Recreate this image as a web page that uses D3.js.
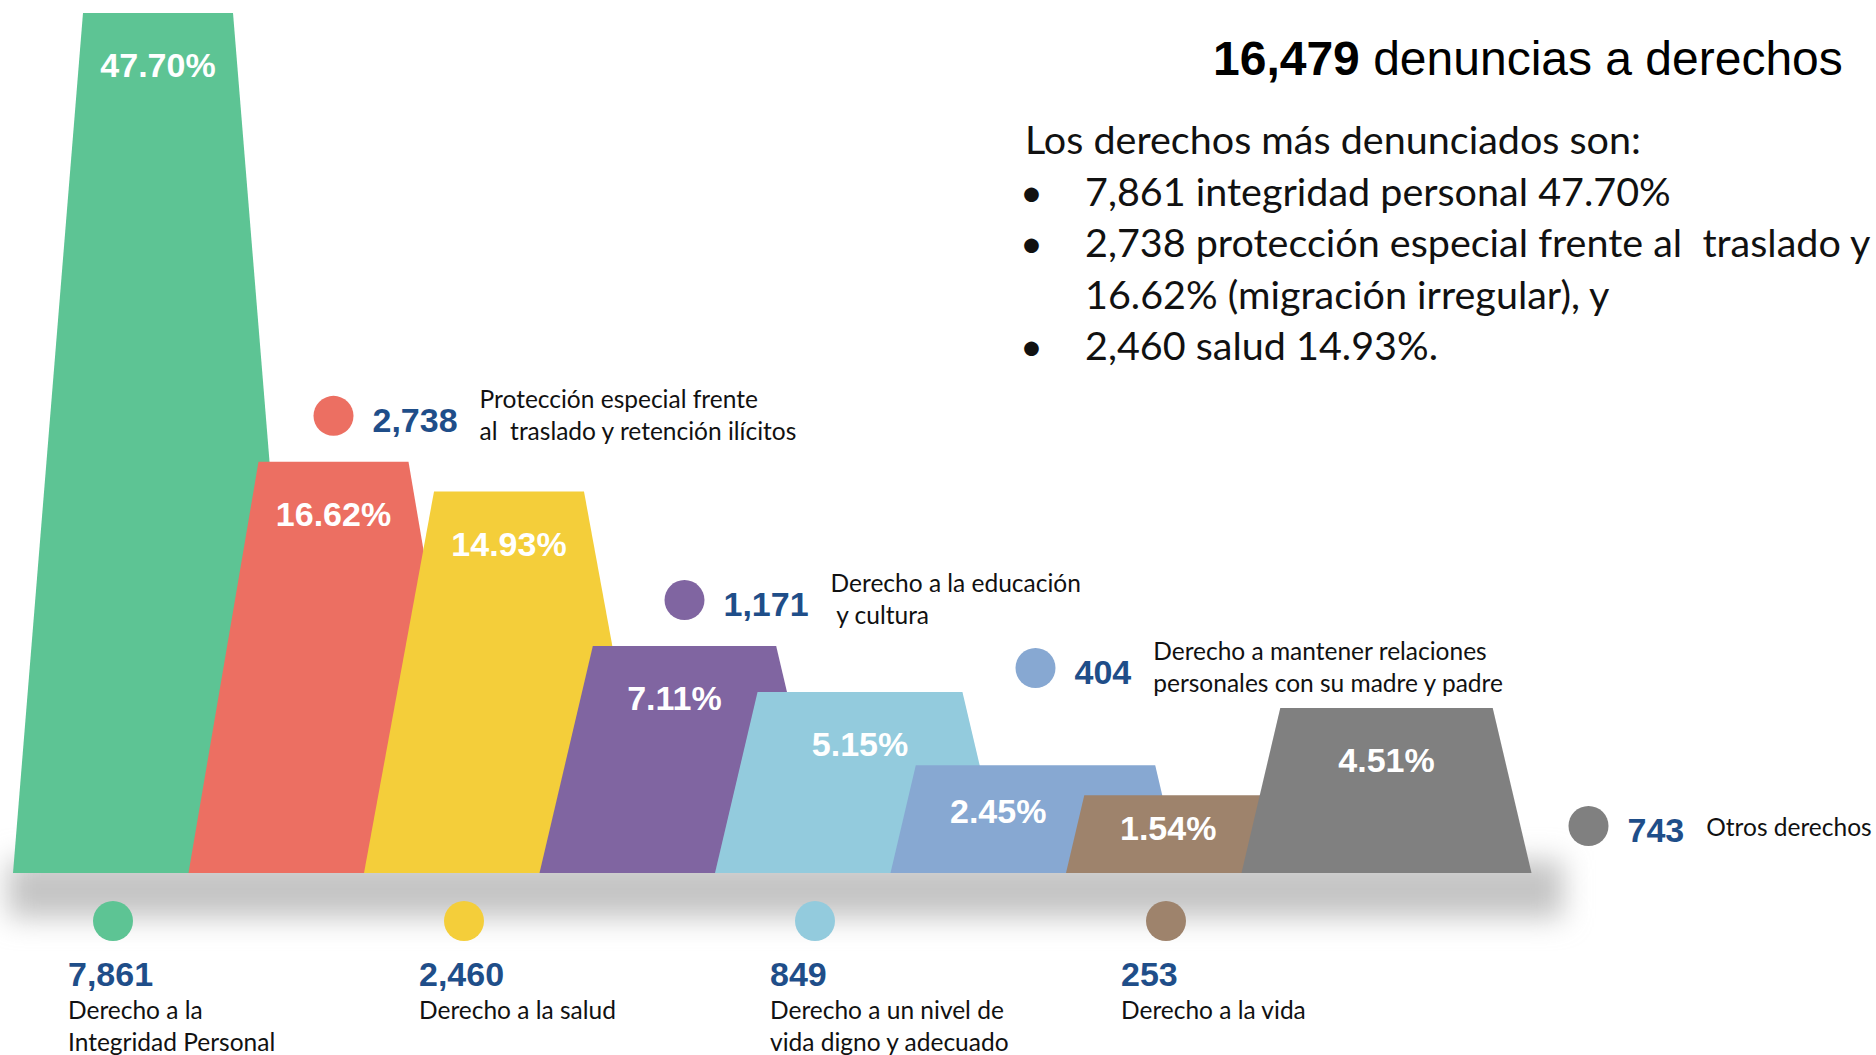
<!DOCTYPE html>
<html>
<head>
<meta charset="utf-8">
<script src="https://cdn.jsdelivr.net/npm/d3@7"></script>
<style>
  html, body { margin: 0; padding: 0; background: #ffffff; }
  svg { display: block; }
  .pct { font-family: "Liberation Sans", Arial, sans-serif; font-weight: bold; fill: #ffffff; }
  .num { font-family: "Liberation Sans", Arial, sans-serif; font-weight: bold; fill: #1f4e89; }
  .desc { font-family: Lato, "Open Sans", sans-serif; fill: #111111; white-space: pre; }
  .resumen { font-family: Lato, "Open Sans", sans-serif; fill: #111111; white-space: pre; }
</style>
</head>
<body>
<svg class="svg"></svg>
<script>
// datos
const categorias = [
  "Integridad Personal", "Traslado y retención ilícitos", "Salud", "Educación y cultura",
  "Nivel de vida digno", "Relaciones con madre y padre", "Vida", "Otros derechos"
];
const denuncias = [7861, 2738, 2460, 1171, 849, 404, 253, 743];
const porcentajes = [47.70, 16.62, 14.93, 7.11, 5.15, 2.45, 1.54, 4.51];
const colores = ["#5dc494", "#ec6f62", "#f4ce3a", "#8065a1", "#93cbdd", "#87a8d2", "#9e836c", "#808080"];
const descripciones = [
  ["Derecho a la", "Integridad Personal"],
  ["Protección especial frente", "al  traslado y retención ilícitos"],
  ["Derecho a la salud"],
  ["Derecho a la educación", " y cultura"],
  ["Derecho a un nivel de", "vida digno y adecuado"],
  ["Derecho a mantener relaciones", "personales con su madre y padre"],
  ["Derecho a la vida"],
  ["Otros derechos"]
];
const total = 16479;
const tituloResto = " denuncias a derechos";
const resumen = [
  { bullet: false, text: "Los derechos más denunciados son:" },
  { bullet: true, text: "7,861 integridad personal 47.70%" },
  { bullet: true, text: "2,738 protección especial frente al  traslado y" },
  { bullet: false, text: "16.62% (migración irregular), y" },
  { bullet: true, text: "2,460 salud 14.93%." }
];

const width = 1876, height = 1055;
const baseY = 873;
const bottomW = 290;

const svg = d3.select(".svg").attr("width", width).attr("height", height);

const nodes = categorias.map((c, i) => ({
  i, cat: c, n: denuncias[i], pct: porcentajes[i], color: colores[i], desc: descripciones[i]
}));

// escalas
const x = d3.scalePoint().domain(categorias).range([13, 1241.5]);
const h = d3.scalePow().exponent(0.7).domain([0, d3.max(porcentajes)]).range([0, 860]);

nodes.forEach(d => {
  d.h = h(d.pct);
  d.top = baseY - d.h;
  d.inset = Math.min(70, 0.235 * d.h);
  d.x0 = x(d.cat);
  d.x1 = d.x0 + bottomW;
  d.tl = d.x0 + d.inset;
  d.tr = d.x1 - d.inset;
});

// sombra
const defs = svg.append("defs");
defs.append("filter").attr("id", "blur").attr("x", "-10%").attr("y", "-200%").attr("width", "120%").attr("height", "500%")
  .append("feGaussianBlur").attr("stdDeviation", 14);

svg.append("rect")
  .attr("x", 8).attr("y", 860)
  .attr("width", 1555).attr("height", 58)
  .attr("fill", "#c4c4c4")
  .attr("filter", "url(#blur)");

// barras trapezoidales
const g = svg.append("g");
g.selectAll("path.bar")
  .data(nodes)
  .join("path")
  .attr("class", "bar")
  .attr("fill", d => d.color)
  .attr("d", d => `M${d.x0},${baseY} L${d.tl},${d.top} L${d.tr},${d.top} L${d.x1},${baseY} Z`);

// left edge of bar at given y (null if above its top)
function leftAt(d, y) {
  if (!d || y < d.top) return null;
  return d.x0 + d.inset * (baseY - y) / d.h;
}

g.selectAll("text.pct")
  .data(nodes)
  .join("text")
  .attr("class", "pct")
  .attr("font-size", 34)
  .attr("text-anchor", "middle")
  .each(function (d) {
    const cy = d.top + Math.min(52, d.h * 0.42);
    const nxt = leftAt(nodes[d.i + 1], cy);
    const right = nxt == null ? d.tr : Math.min(d.tr, nxt);
    d3.select(this).attr("x", (d.tl + right) / 2).attr("y", cy + 12);
  })
  .text(d => d3.format(".2f")(d.pct) + "%");

// anotaciones
const fmt = d3.format(",");
const ann = svg.append("g");
const descSize = 24.5, descStep = 32;

nodes.forEach(d => {
  const last = nodes.length - 1;
  const side = d.i === last ? "right" : (d.i % 2 === 0 ? "bottom" : "top");
  const a = ann.append("g");
  if (side === "bottom") {
    const cx = d.x0 + bottomW / 2 - 45, cy = baseY + 48;
    a.append("circle").attr("cx", cx).attr("cy", cy).attr("r", 20).attr("fill", d.color);
    const tx = cx - 45, ny = cy + 65;
    a.append("text").attr("class", "num").attr("font-size", 34).attr("x", tx).attr("y", ny).text(fmt(d.n));
    d.desc.forEach((l, k) => {
      a.append("text").attr("class", "desc").attr("font-size", descSize)
        .attr("x", tx).attr("y", ny + 33 + k * descStep).text(l);
    });
  } else {
    let cx, cy;
    if (side === "top") {
      cx = (d.tl + d.tr) / 2;
      cy = d.top - 46;
      // keep the text clear of a taller bar further right
      const later = nodes.slice(d.i + 2);
      if (later.length) cy = Math.min(cy, d3.min(later, e => e.top) - 40);
    } else {
      cx = d.x1 + 57; cy = baseY - 47;
    }
    a.append("circle").attr("cx", cx).attr("cy", cy).attr("r", 20).attr("fill", d.color);
    const num = a.append("text").attr("class", "num").attr("font-size", 34)
      .attr("x", cx + 39).attr("y", cy + 16).text(fmt(d.n));
    const lx = cx + 39 + num.node().getComputedTextLength() + 22;
    const n = d.desc.length;
    d.desc.forEach((l, k) => {
      const y0 = n === 1 ? cy + 10 : cy - 8 + k * descStep;
      a.append("text").attr("class", "desc").attr("font-size", descSize)
        .attr("x", lx).attr("y", y0).text(l);
    });
  }
});

// titulo
const titulo = svg.append("text")
  .attr("x", 1213).attr("y", 75)
  .attr("font-family", "'Liberation Sans', Arial, sans-serif")
  .attr("font-size", 48).attr("fill", "#000");
titulo.append("tspan").attr("font-weight", "bold").text(fmt(total));
titulo.append("tspan").text(tituloResto);

// resumen
const res = svg.append("g");
resumen.forEach((r, k) => {
  const y = 154 + k * 51.5;
  if (r.bullet) {
    res.append("text").attr("class", "resumen").attr("font-size", 39.5)
      .attr("x", 1020).attr("y", y).text("•");
  }
  res.append("text").attr("class", "resumen").attr("font-size", 39.5)
    .attr("x", k === 0 ? 1025 : 1085).attr("y", y).text(r.text);
});
</script>
</body>
</html>
